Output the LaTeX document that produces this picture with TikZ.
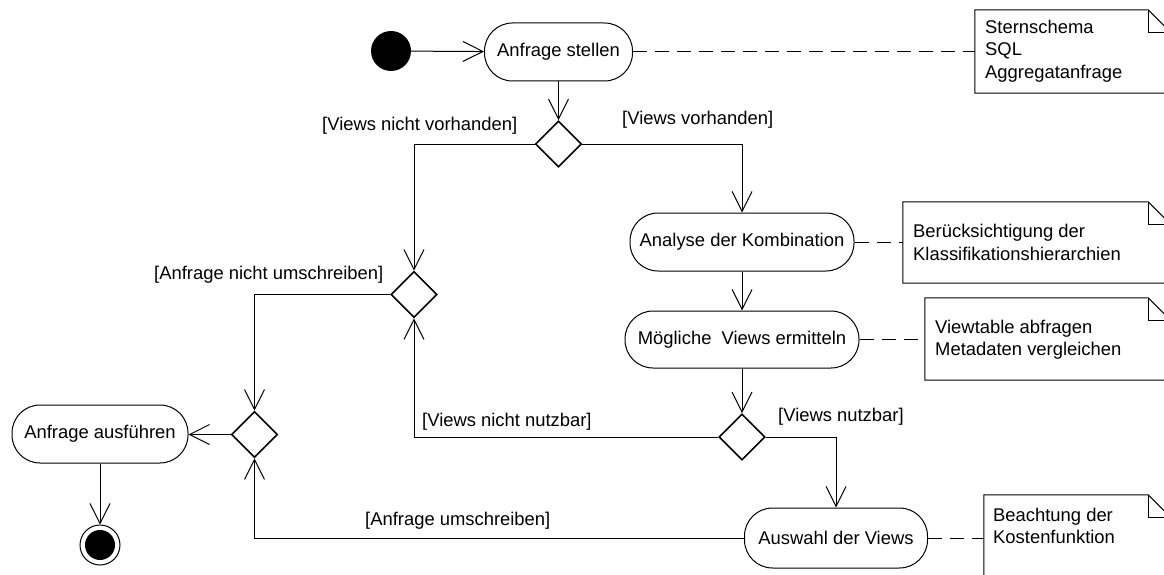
\documentclass[tikz,border=0pt]{standalone}
\usepackage{fontspec}
\setmainfont{Liberation Sans}
\usetikzlibrary{arrows.meta,shapes.geometric}
\begin{document}
\begin{tikzpicture}[x=1pt,y=-1pt,
  font=\fontsize{18.4}{22.5}\selectfont,
  act/.style={draw,line width=1pt,rounded corners=28pt,inner sep=0pt,minimum height=58pt},
  dec/.style={draw,shape=diamond,line width=1.6pt,inner sep=0pt,minimum width=46pt,minimum height=46pt},
  frame/.style={inner sep=0pt},
  notetext/.style={align=left,inner sep=0pt,anchor=west},
  guard/.style={inner sep=0pt,anchor=west},
  flow/.style={line width=1pt,-{Straight Barb[length=20pt,width=20pt,line width=1pt]}},
  link/.style={line width=1pt,dash pattern=on 14pt off 8pt},
  notepath/.style={line width=1pt}]
\useasboundingbox (0,0) rectangle (1164,575);
\clip (0,0) rectangle (1164,575);

% activity nodes
\node[circle,fill=black,minimum size=40pt,inner sep=0pt] (start) at (391,51) {};
\node[act,minimum width=148pt] (a1) at (558.5,52) {Anfrage stellen};
\node[dec] (d1) at (558.5,144) {};
\node[dec] (d2) at (414,294.5) {};
\node[act,minimum width=224pt] (a2) at (742,242) {Analyse der Kombination};
\node[act,minimum width=234pt,minimum height=57pt] (a3) at (742,339.5) {Mögliche\ \ Views ermitteln};
\node[dec] (d3) at (742,437) {};
\node[act,minimum width=183pt,minimum height=60pt] (a4) at (836,538) {Auswahl der Views};
\node[dec] (d4) at (254.5,434.5) {};
\node[act,minimum width=176pt] (a5) at (100,434) {Anfrage ausführen};
\node[circle,draw,line width=1pt,minimum size=40pt,inner sep=0pt] (end) at (100,545) {};
\fill (end.center) circle[radius=15pt];

% notes (frames)
\node[frame,minimum width=196pt,minimum height=83pt] (n1) at (1073,51.5) {};
\node[frame,minimum width=268pt,minimum height=81pt] (n2) at (1037,242.5) {};
\node[frame,minimum width=246pt,minimum height=82pt] (n3) at (1048,339) {};
\node[frame,minimum width=187pt,minimum height=90pt] (n4) at (1077.5,540) {};
\foreach \n in {n1,n2,n3,n4}{
  \draw[notepath] (\n.north west) -- ([xshift=-23pt]\n.north east) -- ([yshift=-23pt]\n.north east)
     -- (\n.south east) -- (\n.south west) -- cycle;
  \draw[notepath] ([xshift=-23pt]\n.north east) -- ([xshift=-23pt,yshift=-23pt]\n.north east) -- ([yshift=-23pt]\n.north east);
}
\node[notetext] (t1) at (985,51) {Sternschema\\SQL\\Aggregatanfrage};
\node[notetext] (t2) at (913,242.5) {Berücksichtigung der\\Klassifikationshierarchien};
\node[notetext] (t3) at (935,339.5) {Viewtable abfragen\\Metadaten vergleichen};
\node[notetext] (t4) at (993,526) {Beachtung der\\Kostenfunktion};

% flows
\draw[flow] (start) -- (a1);
\draw[flow] (a1) -- (d1);
\draw[flow] (d1.east) -| (a2.north);
\draw[flow] (d1.west) -| (d2.north);
\draw[flow] (a2) -- (a3);
\draw[flow] (a3) -- (d3);
\draw[flow] (d3.west) -| (d2.south);
\draw[flow] (d3.east) -| (a4.north);
\draw[flow] (d2.west) -| (d4.north);
\draw[flow] (a4.west) -| (d4.south);
\draw[flow] (d4.west) -- (a5.east |- d4.west);
\draw[flow] (a5) -- (end);

% note links
\draw[link] (a1.east) -- (a1.east -| n1.west);
\draw[link] (a2.east) -- (a2.east -| n2.west);
\draw[link] (a3.east) -- (a3.east -| n3.west);
\draw[link] (a4.east) -- (a4.east -| n4.west);

% guards
\node[guard] (g1) at (322,126) {[Views nicht vorhanden]};
\node[guard] (g2) at (622,120) {[Views vorhanden]};
\node[guard] (g3) at (154,275) {[Anfrage nicht umschreiben]};
\node[guard] (g4) at (422,422) {[Views nicht nutzbar]};
\node[guard] (g5) at (778,417) {[Views nutzbar]};
\node[guard] (g6) at (365,521) {[Anfrage umschreiben]};
\end{tikzpicture}
\end{document}
